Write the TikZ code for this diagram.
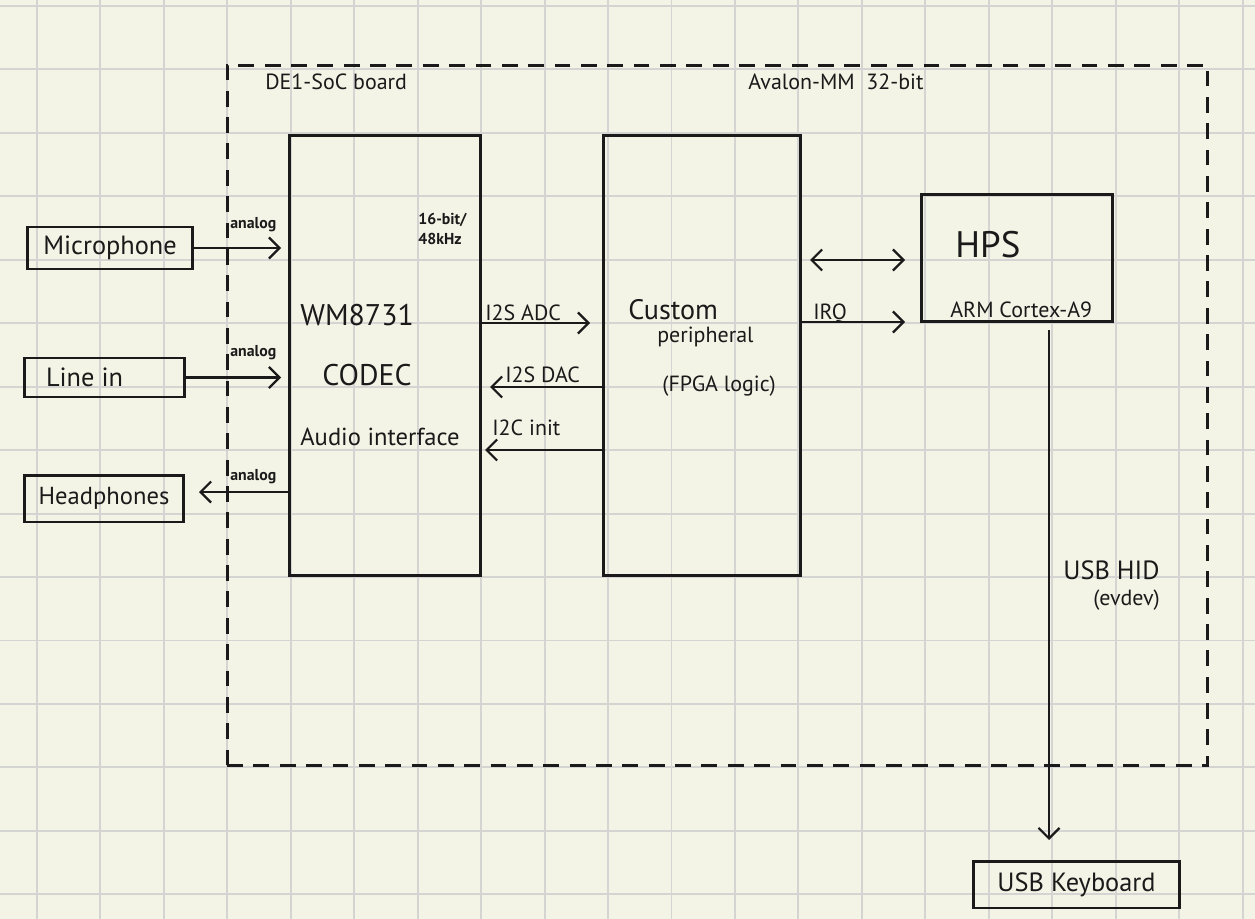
\documentclass[tikz,border=0pt]{standalone}
\usepackage{fontspec}
\setmainfont{PT Sans}
\usetikzlibrary{arrows.meta}
\definecolor{paper}{HTML}{F4F4E6}
\definecolor{gridgray}{HTML}{D4D4D2}
\definecolor{ink}{HTML}{1A1A1A}
\begin{document}
\begin{tikzpicture}[x=0.02cm,y=-0.02cm,
    blk/.style={draw=ink,line width=1.7pt,inner sep=0pt},
    arr/.style={draw=ink,line width=1.3pt,-{Straight Barb[length=6pt,width=12pt,line width=1.3pt]}},
    big/.style={font=\fontsize{16}{19}\selectfont,text=ink,inner sep=0pt},
    mid/.style={font=\fontsize{12.5}{15}\selectfont,text=ink,inner sep=0pt},
    tiny/.style={font=\fontsize{9}{11}\selectfont\bfseries,text=ink,inner sep=0pt}]
  \useasboundingbox (0,0) rectangle (1255,919);
  \fill[paper] (0,0) rectangle (1255,919);
  % grid paper
  \foreach \i in {0,...,19} {
    \draw[gridgray,line width=1.1pt] ({37+63.45*\i},0) -- ({37+63.45*\i},919);
  }
  \foreach \j in {0,...,14} {
    \draw[gridgray,line width=1.1pt] (0,{6+63.45*\j}) -- (1255,{6+63.45*\j});
  }
  % board frame
  \node[draw=ink,line width=1.7pt,dash pattern=on 9pt off 6pt,minimum width=19.62cm,minimum height=14.02cm] (board) at (717.5,415.5) {};
  \node[mid,anchor=west] (boardlbl) at (265,82) {DE1-SoC board};
  \node[mid,anchor=west] (avalon) at (748,82) {Avalon-MM\ \ 32-bit};
  % blocks
  \node[blk,minimum width=3.84cm,minimum height=8.82cm] (codec) at (385,355.5) {};
  \node[blk,minimum width=3.96cm,minimum height=8.82cm] (custom) at (702,355.5) {};
  \node[blk,minimum width=3.84cm,minimum height=2.56cm] (hps) at (1017,258) {};
  \node[blk,big,font=\fontsize{15}{18}\selectfont,minimum width=3.32cm,minimum height=0.84cm] (mic) at (110,248) {Microphone};
  \node[blk,big,font=\fontsize{15}{18}\selectfont,minimum width=3.22cm,minimum height=0.78cm] (linein) at (104.5,377.5) {\hspace*{-0.8cm}Line in};
  \node[blk,big,font=\fontsize{14}{17}\selectfont,minimum width=3.2cm,minimum height=0.94cm] (phones) at (104,498.5) {Headphones};
  \node[blk,big,font=\fontsize{15}{18}\selectfont,minimum width=4.14cm,minimum height=0.94cm] (kbd) at (1076.5,884.5) {USB Keyboard};
  % texts in blocks
  \node[big,font=\fontsize{17}{20}\selectfont,anchor=west] (wm) at (300,315) {WM8731};
  \node[big,font=\fontsize{17}{20}\selectfont,anchor=west] (codeclbl) at (322,375) {CODEC};
  \node[big,font=\fontsize{14}{17}\selectfont,anchor=west] (audio) at (300,437) {Audio interface};
  \node[tiny,align=left,anchor=west] (rate) at (418,229) {16-bit/\\48kHz};
  \node[big,anchor=west] (cust) at (628,310) {Custom};
  \node[mid,anchor=west] (periph) at (657,337) {peripheral};
  \node[mid,anchor=west] (fpga) at (662,386) {(FPGA logic)};
  \node[big,font=\fontsize{21}{24}\selectfont,anchor=west] (hpslbl) at (955,245) {HPS};
  \node[mid,anchor=west] (arm) at (950,310) {ARM Cortex-A9};
  % audio links
  \draw[arr] (mic.east) -- (281,248);
  \node[tiny,anchor=west] (an1) at (230,225) {analog};
  \draw[arr] (linein.east) -- (281,377.5);
  \node[tiny,anchor=west] (an2) at (230,353) {analog};
  \draw[arr] (codec.west |- 0,492) -- (199,492);
  \node[tiny,anchor=west] (an3) at (230,477) {analog};
  % codec <-> custom
  \draw[arr] (codec.east |- 0,323) -- (590,323);
  \node[mid,anchor=west] (adc) at (485,313) {I2S ADC};
  \draw[arr] (custom.west |- 0,387) -- (490,387);
  \node[mid,anchor=west] (dac) at (505,375) {I2S DAC};
  \draw[arr] (custom.west |- 0,450) -- (485,450);
  \node[mid,anchor=west] (i2c) at (492,428) {I2C init};
  % custom <-> hps
  \draw[draw=ink,line width=1.3pt,{Straight Barb[length=6pt,width=12pt,line width=1.3pt]}-{Straight Barb[length=6pt,width=12pt,line width=1.3pt]}] (810,260) -- (905,260);
  \draw[arr] (custom.east |- 0,322) -- (905,322);
  \node[mid,anchor=west] (irq) at (813,314) {IRQ};
  % usb
  \coordinate (usbtop) at (1049,330);
  \coordinate (usbend) at (1049,840);
  \draw[arr] (usbtop) -- (usbend);
  \node[big,font=\fontsize{15}{18}\selectfont,anchor=west] (usbhid) at (1063,570) {USB HID};
  \node[mid,anchor=west] (evdev) at (1093,600) {(evdev)};
\end{tikzpicture}
\end{document}
